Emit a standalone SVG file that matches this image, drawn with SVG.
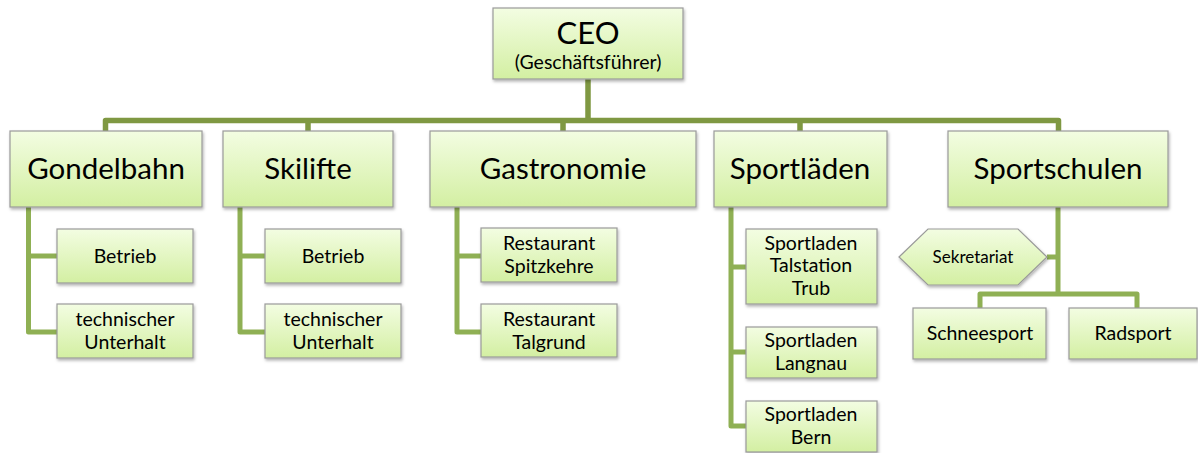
<svg xmlns="http://www.w3.org/2000/svg" width="1198" height="453" viewBox="0 0 1198 453">
<defs>
<linearGradient id="g" x1="0" y1="0" x2="0" y2="1">
<stop offset="0" stop-color="#f3fde2"/>
<stop offset="1" stop-color="#d3efa2"/>
</linearGradient>
<filter id="sh" x="-10%" y="-10%" width="130%" height="140%">
<feDropShadow dx="1" dy="2" stdDeviation="1.5" flood-color="#000" flood-opacity="0.3"/>
</filter>
</defs>
<style>
.b{fill:url(#g);stroke:#9a9a9a;stroke-width:1.2;filter:url(#sh)}
.t{font-family:Lato,"Liberation Sans",sans-serif;fill:#000;text-anchor:middle}
.l1{font-size:29.5px}
.l2{font-size:19.5px}
.top{fill:none;stroke:#7f9842;stroke-width:5.5;stroke-linejoin:round}
.sub{fill:none;stroke:#8fb054;stroke-width:5;stroke-linejoin:round}
</style>
<g id="connectors">
<path class="top" d="M588 79 V120.5 M105.5 131 V120.5 H1058.5 V131 M308 120.5 V131 M563 120.5 V131 M800 120.5 V131"/>
<path class="sub" d="M28.5 207 V332 H57 M28.5 256 H57"/>
<path class="sub" d="M240 207 V332 H265 M240 256 H265"/>
<path class="sub" d="M457 207 V332 H481 M457 256 H481"/>
<path class="sub" d="M731 207 V426 H746 M731 267 H746 M731 352 H746"/>
<path class="sub" d="M1058 207 V294 M1047 257 H1058 M980 308 V294 H1137 V308"/>
</g>
<g id="ceo"><rect class="b" x="493" y="8" width="190" height="71"/>
<text class="t" x="588" y="44" font-size="31">CEO</text>
<text class="t" x="588" y="69" font-size="19.5">(Geschäftsführer)</text></g>
<g id="gondelbahn"><rect class="b" x="10" y="131" width="192" height="76"/><text class="t l1" x="106" y="179">Gondelbahn</text></g>
<g id="skilifte"><rect class="b" x="223" y="131" width="170" height="76"/><text class="t l1" x="308" y="179">Skilifte</text></g>
<g id="gastronomie"><rect class="b" x="430" y="131" width="266" height="76"/><text class="t l1" x="563" y="179">Gastronomie</text></g>
<g id="sportlaeden"><rect class="b" x="714" y="131" width="173" height="76"/><text class="t l1" x="800" y="179">Sportläden</text></g>
<g id="sportschulen"><rect class="b" x="948" y="131" width="220" height="76"/><text class="t l1" x="1058" y="179">Sportschulen</text></g>
<g id="g-betrieb"><rect class="b" x="57" y="229" width="136" height="54"/><text class="t l2" x="125" y="263">Betrieb</text></g>
<g id="g-unterhalt"><rect class="b" x="57" y="304" width="136" height="54"/><text class="t l2" x="125" y="326">technischer</text><text class="t l2" x="125" y="349">Unterhalt</text></g>
<g id="s-betrieb"><rect class="b" x="265" y="229" width="136" height="54"/><text class="t l2" x="333" y="263">Betrieb</text></g>
<g id="s-unterhalt"><rect class="b" x="265" y="304" width="136" height="54"/><text class="t l2" x="333" y="326">technischer</text><text class="t l2" x="333" y="349">Unterhalt</text></g>
<g id="spitzkehre"><rect class="b" x="481" y="228" width="136" height="54"/><text class="t l2" x="549" y="250">Restaurant</text><text class="t l2" x="549" y="273">Spitzkehre</text></g>
<g id="talgrund"><rect class="b" x="481" y="304" width="136" height="53"/><text class="t l2" x="549" y="326">Restaurant</text><text class="t l2" x="549" y="349">Talgrund</text></g>
<g id="trub"><rect class="b" x="746" y="229" width="131" height="75"/><text class="t l2" x="811" y="250">Sportladen</text><text class="t l2" x="811" y="272">Talstation</text><text class="t l2" x="811" y="295">Trub</text></g>
<g id="langnau"><rect class="b" x="746" y="327" width="131" height="51"/><text class="t l2" x="811" y="347">Sportladen</text><text class="t l2" x="811" y="370">Langnau</text></g>
<g id="bern"><rect class="b" x="746" y="401" width="131" height="51"/><text class="t l2" x="811" y="421">Sportladen</text><text class="t l2" x="811" y="444">Bern</text></g>
<g id="sekretariat"><polygon class="b" points="899,257 928,229 1018,229 1047,257 1018,285 928,285"/><text class="t" x="973" y="263" font-size="17">Sekretariat</text></g>
<g id="schneesport"><rect class="b" x="913" y="308" width="133" height="51"/><text class="t l2" x="980" y="340">Schneesport</text></g>
<g id="radsport"><rect class="b" x="1069" y="308" width="128" height="51"/><text class="t l2" x="1133" y="340">Radsport</text></g>
</svg>
